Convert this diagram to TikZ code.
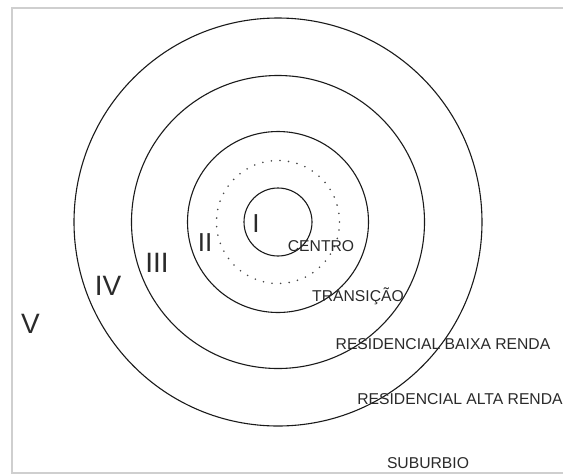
\documentclass[tikz,border=0pt]{standalone}
\usepackage{fontspec}
\setmainfont{Liberation Sans}
\usepackage{xcolor}
\definecolor{ringline}{HTML}{1a1a1a}
\definecolor{zonetext}{HTML}{2a2a2a}
\definecolor{framegray}{HTML}{cfcfcf}
\begin{document}
\begin{tikzpicture}[x=1pt, y=-1pt,
    ring/.style={draw=ringline, line width=1.1pt},
    ringd/.style={draw=ringline!80, line width=1.8pt, line cap=round,
      dash pattern=on 0pt off 8.6pt},
    zone/.style={font=\fontsize{28}{28}\selectfont, text=zonetext, anchor=base, inner sep=0pt},
    lbl/.style={font=\fontsize{15.7}{16}\selectfont, text=zonetext, anchor=base, inner sep=0pt}]
\useasboundingbox (0,0) rectangle (563,475);
% --- frame ---
\draw[framegray, line width=1.4pt] (570,8) -- (12,8) -- (12,473) -- (570,473);

% --- rings ---
\coordinate (ctr) at (278,222);
\draw[ring] (ctr) circle[radius=204pt];
\draw[ring] (ctr) circle[radius=146.5pt];
\draw[ring] (ctr) circle[radius=90.5pt];
\draw[ringd] (ctr) circle[radius=61.5pt];
\draw[ring] (ctr) circle[radius=34pt];

% --- zone numbers ---
\node[zone] (zV) at (30.5,333) {V};
\node[zone] (zIV) at (108,295) {IV};
\node[zone] (zIII) at (157,272) {III};
\node[zone, font=\fontsize{26}{26}\selectfont] (zII) at (205,251) {II};
\node[zone, font=\fontsize{26}{26}\selectfont] (zI) at (256,232) {I};

% --- zone names ---
\node[lbl] (centro) at (321,251.6) {CENTRO};
\node[lbl] (trans) at (358,301.6) {TRANSIÇÃO};
\node[lbl] (baixa) at (443,349.6) {RESIDENCIAL BAIXA RENDA};
\node[lbl] (alta) at (460,404.6) {RESIDENCIAL ALTA RENDA};
\node[lbl] (subur) at (428,468.6) {SUBURBIO};
\end{tikzpicture}
\end{document}
